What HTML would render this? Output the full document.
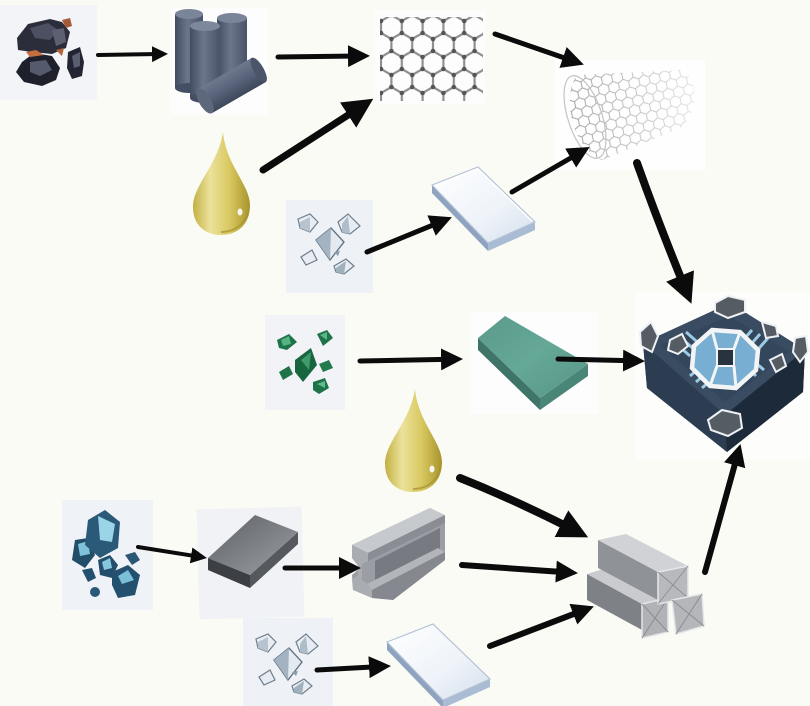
<!DOCTYPE html>
<html><head><meta charset="utf-8"><style>
html,body{margin:0;padding:0;background:#fbfbf6;}
body{width:810px;height:706px;overflow:hidden;}
svg{display:block;}
</style></head><body>
<svg width="810" height="706" viewBox="0 0 810 706" xmlns="http://www.w3.org/2000/svg">
<defs>
  <marker id="hs" markerUnits="userSpaceOnUse" markerWidth="16" markerHeight="16" viewBox="0 0 16 16" refX="8" refY="8" orient="auto"><path d="M0,0 L16,8 L0,16 z" fill="#0b0b0b"/></marker>
  <marker id="hm" markerUnits="userSpaceOnUse" markerWidth="22" markerHeight="22" viewBox="0 0 22 22" refX="10" refY="11" orient="auto"><path d="M0,0 L22,11 L0,22 z" fill="#0b0b0b"/></marker>
  <marker id="hl" markerUnits="userSpaceOnUse" markerWidth="30" markerHeight="30" viewBox="0 0 30 30" refX="13" refY="15" orient="auto"><path d="M0,0 L30,15 L0,30 z" fill="#0b0b0b"/></marker>

  <linearGradient id="cyl" x1="0" y1="0" x2="1" y2="0"><stop offset="0" stop-color="#434d61"/><stop offset="0.45" stop-color="#6b768b"/><stop offset="1" stop-color="#4a5468"/></linearGradient>
  <linearGradient id="cylH" x1="0" y1="0" x2="0" y2="1"><stop offset="0" stop-color="#6e798e"/><stop offset="0.5" stop-color="#58637a"/><stop offset="1" stop-color="#3e475a"/></linearGradient>
  <linearGradient id="oil" x1="0" y1="0" x2="1" y2="0"><stop offset="0" stop-color="#c2b044"/><stop offset="0.3" stop-color="#ece29a"/><stop offset="0.65" stop-color="#d8c760"/><stop offset="1" stop-color="#a8942c"/></linearGradient>
  <linearGradient id="glass" x1="0" y1="0" x2="1" y2="1"><stop offset="0" stop-color="#ffffff"/><stop offset="0.6" stop-color="#eef3f9"/><stop offset="1" stop-color="#d3deeb"/></linearGradient>
  <linearGradient id="steel" x1="0" y1="0" x2="1" y2="1"><stop offset="0" stop-color="#5c6066"/><stop offset="0.6" stop-color="#83878c"/><stop offset="1" stop-color="#9da0a4"/></linearGradient>
  <linearGradient id="fade" gradientUnits="userSpaceOnUse" x1="565" y1="0" x2="700" y2="0"><stop offset="0" stop-color="#ffffff" stop-opacity="0"/><stop offset="1" stop-color="#ffffff" stop-opacity="0.75"/></linearGradient>
  <linearGradient id="gplt" x1="0" y1="0" x2="1" y2="1"><stop offset="0" stop-color="#5a9a8b"/><stop offset="0.5" stop-color="#65a898"/><stop offset="1" stop-color="#579585"/></linearGradient>

  <pattern id="hexG" width="20.8" height="36" patternUnits="userSpaceOnUse" patternTransform="translate(381,15)">
    <path d="M0,6 L10.4,0 L20.8,6 L20.8,18 L10.4,24 L0,18 Z M10.4,24 L10.4,36" fill="none" stroke="#8f8f8f" stroke-width="2.2"/>
    <circle cx="10.4" cy="0" r="2.3" fill="#555"/><circle cx="10.4" cy="36" r="2.3" fill="#555"/>
    <circle cx="0" cy="6" r="2.3" fill="#555"/><circle cx="20.8" cy="6" r="2.3" fill="#555"/>
    <circle cx="0" cy="18" r="2.3" fill="#555"/><circle cx="20.8" cy="18" r="2.3" fill="#555"/>
    <circle cx="10.4" cy="24" r="2.3" fill="#555"/>
  </pattern>
  <pattern id="hexT" width="10.4" height="18" patternUnits="userSpaceOnUse" patternTransform="rotate(-12)">
    <path d="M0,3 L5.2,0 L10.4,3 L10.4,9 L5.2,12 L0,9 Z M5.2,12 L5.2,18" fill="none" stroke="#9c9c9c" stroke-width="1"/>
  </pattern>

  <g id="wcry">
    <polygon points="0,5 12,0 20,8 12,18 2,14" fill="#e7edf2" stroke="#6f7e8c" stroke-width="1.2"/>
    <polygon points="2,8 12,3 12,18 2,14" fill="#b7c4cf"/>
    <polygon points="40,8 50,0 62,12 52,20 44,18" fill="#e7edf2" stroke="#6f7e8c" stroke-width="1.2"/>
    <polygon points="44,10 50,2 52,20 44,18" fill="#aebdca"/>
    <polygon points="18,26 33,14 46,28 32,46" fill="#e3eaf0" stroke="#5f6f7e" stroke-width="1.3"/>
    <polygon points="18,26 33,14 32,46" fill="#a3b3c1"/>
    <polygon points="3,43 14,36 19,46 8,51" fill="#e7edf2" stroke="#6f7e8c" stroke-width="1.2"/>
    <polygon points="36,52 48,45 56,52 46,60 38,58" fill="#e7edf2" stroke="#6f7e8c" stroke-width="1.2"/>
    <polygon points="38,54 48,47 46,60 38,58" fill="#9fb0be"/>
    <polygon points="36,38 42,37 40,42" fill="#8d9caa"/>
  </g>
</defs>

<!-- ===== icon backgrounds ===== -->
<rect x="0" y="5" width="97" height="95" fill="#f3f4f7"/>
<rect x="170" y="8" width="98" height="107" fill="#fdfdfd"/>
<rect x="375" y="10" width="110" height="94" fill="#fdfdfd"/>
<rect x="555" y="60" width="150" height="110" fill="#fefefe"/>
<rect x="286" y="200" width="87" height="93" fill="#eef1f5"/>
<rect x="265" y="315" width="80" height="95" fill="#f1f3f6"/>
<rect x="470" y="312" width="128" height="102" fill="#fdfdfd"/>
<rect x="635" y="292" width="175" height="168" fill="#fdfdfc"/>
<rect x="62" y="500" width="91" height="110" fill="#eff2f6"/>
<rect x="198" y="508" width="105" height="110" fill="#f1f2f5" transform="rotate(-1.5 250 563)"/>
<rect x="243" y="618" width="90" height="88" fill="#eef1f5"/>

<!-- ===== coal ===== -->
<polygon points="17,38 28,24 50,19 62,22 70,32 66,48 52,54 32,52 18,50" fill="#2b2d3a"/>
<polygon points="30,28 48,23 58,30 50,40 35,38" fill="#4c5062"/>
<polygon points="52,30 64,28 66,42 56,46" fill="#5c6070"/>
<polygon points="22,62 34,53 52,56 60,68 56,80 42,86 24,82 16,72" fill="#1e202c"/>
<polygon points="30,62 46,60 52,70 40,76 30,72" fill="#555a6c"/>
<polygon points="68,52 80,47 84,62 82,76 72,79 67,68" fill="#232533"/>
<polygon points="72,56 80,52 80,66 74,68" fill="#5a5e70"/>
<polygon points="26,52 36,50 44,55 30,57" fill="#c46f3c"/>
<polygon points="56,50 64,48 62,56" fill="#b26236"/>
<polygon points="62,20 70,18 72,26 66,28" fill="#a45a34"/>

<!-- ===== graphite ===== -->
<rect x="175" y="14" width="28" height="74" fill="url(#cyl)"/>
<ellipse cx="189" cy="88" rx="14" ry="5" fill="#454f63"/>
<ellipse cx="189" cy="14" rx="14" ry="5" fill="#7a8599"/>
<rect x="217" y="18" width="30" height="64" fill="url(#cyl)"/>
<ellipse cx="232" cy="18" rx="15" ry="5" fill="#7a8599"/>
<rect x="190" y="26" width="30" height="72" fill="url(#cyl)"/>
<ellipse cx="205" cy="98" rx="15" ry="5" fill="#454f63"/>
<ellipse cx="205" cy="26" rx="15" ry="5" fill="#7d889c"/>
<g transform="translate(205,101) rotate(-30)">
  <rect x="0" y="-14" width="62" height="28" fill="url(#cylH)"/>
  <ellipse cx="62" cy="0" rx="5" ry="14" fill="#4b5569"/>
  <ellipse cx="0" cy="0" rx="6" ry="14" fill="#5d687c"/>
</g>

<!-- ===== graphene ===== -->
<rect x="380" y="17" width="103" height="84" fill="url(#hexG)"/>

<!-- ===== nanotube ===== -->
<path d="M577,75 L682,70 C698,80 700,112 680,128 L602,160 C575,150 560,100 577,75 Z" fill="url(#hexT)"/>
<path d="M577,75 L682,70 C698,80 700,112 680,128 L602,160 C575,150 560,100 577,75 Z" fill="url(#fade)"/>
<ellipse cx="585" cy="117" rx="17" ry="43" transform="rotate(-18 585 117)" fill="none" stroke="#c4c4c4" stroke-width="1.2"/>

<!-- ===== oil drops ===== -->
<g id="drop">
  <path d="M223,132 C226,165 250,185 250,205 C250,225 237,235 221,235 C205,235 193,225 193,207 C193,185 218,165 223,132 Z" fill="url(#oil)"/>
  <path d="M221,233 C237,233 248,222 249,207 C246,224 234,231 221,231 Z" fill="#9a8624" opacity="0.6"/>
  <ellipse cx="240" cy="212" rx="2.5" ry="3.5" fill="#fff" opacity="0.9"/>
</g>
<use href="#drop" transform="translate(192,257)"/>

<!-- ===== white crystals ===== -->
<use href="#wcry" transform="translate(298,214)"/>
<use href="#wcry" transform="translate(256,634)"/>

<!-- ===== glass plates ===== -->
<g>
  <polygon points="432,185 488,243 488,251 432,193" fill="#8ea3bf"/>
  <polygon points="488,243 535,222 535,230 488,251" fill="#a9bcd3"/>
  <polygon points="432,185 478,167 535,222 488,243" fill="url(#glass)" stroke="#b5c3d6" stroke-width="1.2"/>
  <polyline points="436,186 478,169 532,221" fill="none" stroke="#ffffff" stroke-width="1.5"/>
</g>
<g transform="translate(-45,457)">
  <polygon points="432,185 488,243 488,251 432,193" fill="#8ea3bf"/>
  <polygon points="488,243 535,222 535,230 488,251" fill="#a9bcd3"/>
  <polygon points="432,185 478,167 535,222 488,243" fill="url(#glass)" stroke="#b5c3d6" stroke-width="1.2"/>
</g>

<!-- ===== emeralds ===== -->
<g transform="translate(275,330)">
  <polygon points="2,10 14,4 22,12 12,20 4,18" fill="#1f7349"/>
  <polygon points="6,10 14,6 16,14 8,16" fill="#56b282"/>
  <polygon points="42,4 52,0 58,8 48,16" fill="#1f7349"/>
  <polygon points="45,5 52,2 52,10" fill="#5cb888"/>
  <polygon points="20,30 36,18 42,35 28,52 20,42" fill="#186640"/>
  <polygon points="26,30 36,22 34,40" fill="#3d9c6a"/>
  <polygon points="4,42 14,36 18,44 8,50" fill="#1f7349"/>
  <polygon points="44,34 54,30 58,38 48,42" fill="#227a4e"/>
  <polygon points="38,52 50,48 54,58 44,64 38,60" fill="#1f7349"/>
  <polygon points="42,54 50,51 50,58" fill="#60bc8c"/>
</g>

<!-- ===== green plate ===== -->
<polygon points="478,338 540,398 540,410 478,350" fill="#3f7469"/>
<polygon points="540,398 588,364 588,376 540,410" fill="#4a8678"/>
<polygon points="478,338 505,316 588,364 540,398" fill="url(#gplt)"/>

<!-- ===== chip ===== -->
<polygon points="643,343 730,303 805,350 803,392 727,452 647,388" fill="#233244"/>
<polygon points="643,343 647,388 727,452 725,415" fill="#2c3d52"/>
<polygon points="725,415 727,452 803,392 805,350" fill="#1d2a3a"/>
<polygon points="643,343 730,303 805,350 725,415" fill="#3a4c62"/>
<polygon points="660,345 729,316 790,352 725,402" fill="#33465c"/>
<g stroke="#9ccbe4" stroke-width="3">
  <line x1="672" y1="340" x2="690" y2="356"/><line x1="679" y1="336" x2="697" y2="352"/><line x1="686" y1="332" x2="704" y2="348"/>
  <line x1="752" y1="330" x2="738" y2="346"/><line x1="760" y1="334" x2="746" y2="350"/><line x1="768" y1="338" x2="754" y2="354"/>
  <line x1="690" y1="376" x2="706" y2="362"/><line x1="696" y1="382" x2="712" y2="368"/><line x1="702" y1="388" x2="718" y2="374"/>
  <line x1="748" y1="380" x2="734" y2="366"/><line x1="756" y1="376" x2="742" y2="362"/><line x1="764" y1="370" x2="750" y2="358"/>
</g>
<polygon points="712,330 740,332 758,350 756,370 736,388 710,386 692,368 694,346" fill="#77aed2" stroke="#f2f4f6" stroke-width="4.5"/>
<g stroke="#f2f4f6" stroke-width="3">
  <line x1="712" y1="330" x2="717" y2="349"/><line x1="740" y1="332" x2="734" y2="349"/>
  <line x1="736" y1="388" x2="734" y2="366"/><line x1="710" y1="386" x2="717" y2="366"/>
</g>
<polygon points="717,349 734,349 734,366 717,366" fill="#27333f" stroke="#f2f4f6" stroke-width="2"/>
<g fill="#565c64" stroke="#eef1f4" stroke-width="2">
  <polygon points="715,303 728,296 745,300 745,312 728,318 715,312"/>
  <polygon points="640,332 651,322 658,336 652,352 641,346"/>
  <polygon points="795,338 806,336 808,352 800,362 793,352"/>
  <polygon points="708,420 722,410 740,414 742,428 728,436 711,430"/>
  <polygon points="670,340 682,334 688,346 678,354 668,350"/>
  <polygon points="762,322 776,326 778,336 766,338"/>
  <polygon points="770,360 782,354 786,366 776,372"/>
</g>

<!-- ===== blue crystals ===== -->
<g transform="translate(70,510)">
  <polygon points="5,30 18,28 25,45 15,58 2,50" fill="#234e6a"/>
  <polygon points="8,34 18,31 20,44 10,46" fill="#7fc2da"/>
  <polygon points="18,10 35,0 50,12 48,38 30,48 15,35" fill="#2b5a78"/>
  <polygon points="28,6 45,14 42,32 30,30" fill="#9ad4e6"/>
  <polygon points="28,50 40,45 48,55 42,68 30,65" fill="#244f6c"/>
  <polygon points="32,52 40,48 42,58 34,60" fill="#86c8de"/>
  <polygon points="55,45 65,42 70,50 62,55" fill="#2a5876"/>
  <polygon points="42,62 58,55 70,65 65,85 48,88 42,75" fill="#23506e"/>
  <polygon points="48,66 58,60 64,70 52,74" fill="#7cc0d8"/>
  <polygon points="12,60 22,58 26,68 18,72" fill="#23506e"/>
  <circle cx="25" cy="82" r="5" fill="#2b5a78"/>
</g>

<!-- ===== steel plate ===== -->
<polygon points="208,558 250,575 250,588 208,570" fill="#3c3f44"/>
<polygon points="250,575 298,532 298,544 250,588" fill="#55595e"/>
<polygon points="208,558 255,515 298,532 250,575" fill="url(#steel)"/>

<!-- ===== I-beam ===== -->
<polygon points="352,545 430,508 445,516 445,560 393,600 353,590 352,575 360,568 352,558" fill="#9a9ea4"/>
<polygon points="375,561 440,528 440,552 375,585" fill="#777b81"/>
<polygon points="352,545 430,508 445,515 368,553" fill="#c6c9cd"/>
<polygon points="368,553 445,515 445,523 368,561" fill="#8a8e94"/>
<polygon points="365,585 438,548 445,552 372,590" fill="#b2b5ba"/>
<polygon points="372,590 445,552 445,560 393,600 372,598" fill="#85898f"/>
<polygon points="352,545 368,553 368,561 362,564 362,580 368,584 372,590 372,598 353,590 352,580 358,575 358,566 352,558" fill="#a9adb2"/>

<!-- ===== steel tubes ===== -->
<polygon points="587,574 642,604 642,630 587,600" fill="#7e8186"/>
<polygon points="587,574 613,566 668,598 642,604" fill="#c9cbce"/>
<polygon points="642,604 668,598 668,632 642,638" fill="#b0b2b6" stroke="#e4e5e7" stroke-width="1.5"/>
<path d="M642,604 L668,632 M668,598 L642,638" stroke="#8a8d92" stroke-width="1"/>
<polygon points="598,540 658,572 658,600 598,568" fill="#8f9297"/>
<polygon points="598,540 626,534 688,566 658,572" fill="#d0d2d5"/>
<polygon points="658,572 688,566 688,598 658,604" fill="#b7b9bd" stroke="#e6e7e9" stroke-width="1.5"/>
<path d="M658,572 L688,598 M688,566 L658,604" stroke="#8c8f94" stroke-width="1"/>
<polygon points="672,600 702,594 704,626 676,634" fill="#b4b6ba" stroke="#e4e5e7" stroke-width="1.5"/>
<path d="M672,600 L704,626 M702,594 L676,634" stroke="#8a8d92" stroke-width="1"/>

<!-- ===== arrows ===== -->
<g fill="none" stroke="#0b0b0b" stroke-linecap="round">
  <line x1="98" y1="55" x2="160" y2="54" stroke-width="4" marker-end="url(#hs)"/>
  <line x1="278" y1="57" x2="358" y2="56" stroke-width="5" marker-end="url(#hm)"/>
  <line x1="495" y1="34" x2="572.5" y2="60.7" stroke-width="5" marker-end="url(#hm)"/>
  <line x1="263" y1="170" x2="359" y2="108" stroke-width="7" marker-end="url(#hl)"/>
  <line x1="367" y1="252" x2="440.8" y2="221.8" stroke-width="5" marker-end="url(#hm)"/>
  <line x1="512" y1="192" x2="579.3" y2="153" stroke-width="5" marker-end="url(#hm)"/>
  <path d="M637,163 Q658,222 685,288" stroke-width="8" marker-end="url(#hl)"/>
  <line x1="360" y1="361" x2="451" y2="359.2" stroke-width="5" marker-end="url(#hm)"/>
  <line x1="558" y1="359" x2="633" y2="360.8" stroke-width="5" marker-end="url(#hm)"/>
  <path d="M460,478 Q515,500 573,529.6" stroke-width="8" marker-end="url(#hl)"/>
  <line x1="138" y1="547" x2="199" y2="556.7" stroke-width="4" marker-end="url(#hs)"/>
  <line x1="285" y1="568" x2="349" y2="568" stroke-width="5" marker-end="url(#hm)"/>
  <line x1="462" y1="565" x2="566" y2="572.3" stroke-width="6" marker-end="url(#hm)"/>
  <line x1="317" y1="670" x2="379" y2="666.6" stroke-width="5" marker-end="url(#hm)"/>
  <line x1="490" y1="646" x2="582.7" y2="610.6" stroke-width="6" marker-end="url(#hm)"/>
  <line x1="705" y1="572" x2="737.3" y2="455.6" stroke-width="6" marker-end="url(#hm)"/>
</g>
</svg>
</body></html>
